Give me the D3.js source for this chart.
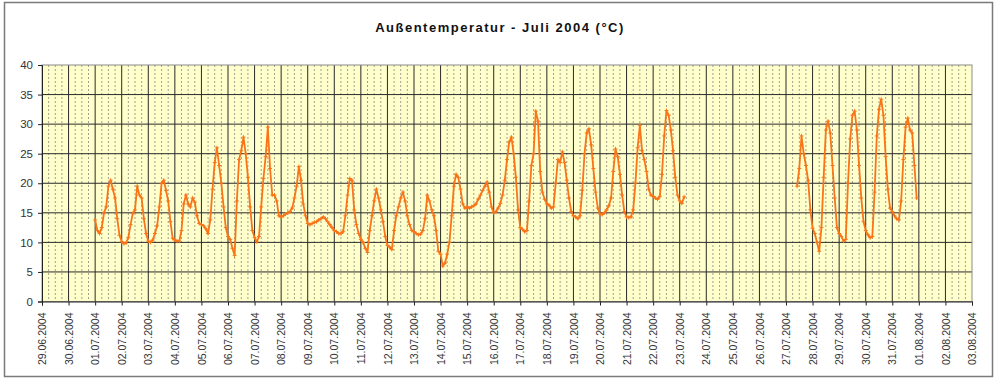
<!DOCTYPE html>
<html>
<head>
<meta charset="utf-8">
<script src="https://cdnjs.cloudflare.com/ajax/libs/d3/7.8.5/d3.min.js"></script>
<style>
  html, body { margin: 0; padding: 0; background: #fff; }
  svg { display: block; }
</style>
</head>
<body>
<svg id="chart" width="1000" height="382"></svg>
<script>
// ---- Data (2-hourly readings, °C) ----
const title = "Außentemperatur - Juli 2004 (°C)";
const tickDates = ["29.06.2004","30.06.2004","01.07.2004","02.07.2004","03.07.2004","04.07.2004","05.07.2004",
  "06.07.2004","07.07.2004","08.07.2004","09.07.2004","10.07.2004","11.07.2004","12.07.2004","13.07.2004",
  "14.07.2004","15.07.2004","16.07.2004","17.07.2004","18.07.2004","19.07.2004","20.07.2004","21.07.2004",
  "22.07.2004","23.07.2004","24.07.2004","25.07.2004","26.07.2004","27.07.2004","28.07.2004","29.07.2004",
  "30.07.2004","31.07.2004","01.08.2004","02.08.2004","03.08.2004"];
const yTicks = [0,5,10,15,20,25,30,35,40];

const jul01 = [13.8,12.0,11.5,12.5,15.0,16.0,19.5,20.5,19.0,17.5,14.0,11.2];
const jul02 = [10.1,9.8,9.9,10.8,13.0,14.9,15.5,19.5,18.0,17.5,14.0,11.5];
const jul03 = [10.2,10.0,10.4,11.5,12.8,16.0,20.0,20.5,18.8,17.0,13.5,10.7];
const jul04 = [10.4,10.2,10.2,12.0,16.5,18.0,16.5,16.0,17.5,16.8,14.5,13.2];
const jul05 = [13.0,12.8,12.3,11.5,13.8,19.0,23.5,26.0,23.0,20.0,16.0,12.5];
const jul06 = [11.0,10.5,9.0,7.8,17.0,24.0,25.5,27.8,25.0,21.0,16.0,12.0];
const jul07 = [10.8,10.1,11.0,16.0,20.8,24.5,29.5,22.5,18.0,18.0,17.0,14.5];
const jul08 = [14.3,14.5,14.8,15.0,15.2,15.8,17.5,19.5,22.8,20.5,16.5,14.5];
const jul09 = [13.2,13.0,13.2,13.4,13.5,13.8,14.0,14.3,14.0,13.5,13.0,12.5];
const jul10 = [12.0,11.8,11.5,11.5,11.8,14.5,18.0,20.8,20.5,15.5,13.0,11.5];
const jul11 = [10.5,10.0,9.0,8.3,12.0,14.5,17.0,19.0,17.5,15.5,13.5,11.0];
const jul12 = [9.5,9.2,8.8,12.0,14.5,16.0,17.5,18.5,17.0,14.5,13.0,12.0];
const jul13 = [11.8,11.5,11.3,11.4,12.0,14.0,18.0,17.0,15.5,14.5,12.0,8.5];
const jul14 = [8.0,6.0,6.5,8.0,10.0,14.5,19.5,21.5,21.0,19.0,16.5,15.8];
const jul15 = [16.0,15.8,16.0,16.2,16.5,17.3,18.0,18.8,19.5,20.2,18.5,16.0];
const jul16 = [15.0,15.2,15.8,16.6,18.0,20.5,24.0,27.0,27.8,25.0,21.0,15.5];
const jul17 = [12.5,12.2,11.8,12.0,17.0,23.0,25.0,32.2,30.5,22.0,18.5,17.3];
const jul18 = [16.5,16.3,15.8,16.0,20.0,24.0,23.5,25.3,23.5,20.5,17.5,15.2];
const jul19 = [14.5,14.3,14.0,14.5,18.8,25.0,28.5,29.2,26.5,22.5,18.5,15.8];
const jul20 = [14.8,14.7,15.0,15.5,16.2,17.5,22.0,25.8,24.5,21.5,18.0,15.2];
const jul21 = [14.3,14.2,14.3,15.5,20.0,26.0,29.8,25.5,24.0,22.0,19.0,18.0];
const jul22 = [17.8,17.5,17.3,17.8,21.5,28.0,32.3,31.5,29.0,25.5,21.0,18.0];
const jul23 = [17.0,16.6,17.7];
const jul27 = [19.5,22.5,28.0,25.0,23.0,20.5,15.5];   // from 10:00
const jul28 = [12.4,11.5,10.0,8.5,12.5,21.0,29.0,30.5,28.5,23.0,17.5,12.5];
const jul29 = [11.5,11.0,10.2,10.5,20.0,27.5,31.5,32.2,29.0,23.0,17.5,13.5];
const jul30 = [12.0,11.3,10.8,11.0,18.5,28.0,32.5,34.2,31.5,24.5,19.0,15.8];
const jul31 = [15.2,14.5,14.0,13.8,17.0,24.0,29.5,31.0,29.0,28.5,23.0,17.5];

// segments: [day-of-July, start hour, values]
const segment1 = [[1,0,jul01],[2,0,jul02],[3,0,jul03],[4,0,jul04],[5,0,jul05],[6,0,jul06],[7,0,jul07],
  [8,0,jul08],[9,0,jul09],[10,0,jul10],[11,0,jul11],[12,0,jul12],[13,0,jul13],[14,0,jul14],[15,0,jul15],
  [16,0,jul16],[17,0,jul17],[18,0,jul18],[19,0,jul19],[20,0,jul20],[21,0,jul21],[22,0,jul22],[23,0,jul23]];
const segment2 = [[27,10,jul27],[28,0,jul28],[29,0,jul29],[30,0,jul30],[31,0,jul31]];

function buildSeries(seg) {
  const out = [];
  seg.forEach(([day, start, vals]) => {
    vals.forEach((v, i) => {
      out.push({ t: new Date(Date.UTC(2004, 6, day, start + 2 * i)), v: v });
    });
  });
  return out;
}
const series = [buildSeries(segment1), buildSeries(segment2)];

// ---- Layout ----
const svg = d3.select("#chart");
const L = 42, R = 972, T = 65, B = 301.5;

const x = d3.scaleUtc()
  .domain([new Date(Date.UTC(2004, 5, 29)), new Date(Date.UTC(2004, 7, 3))])
  .range([L, R]);
const y = d3.scaleLinear().domain([0, 40]).range([B, T]);

// outer frame
svg.append("rect").attr("x", 4.5).attr("y", 2.5).attr("width", 988).attr("height", 374)
  .attr("fill", "#fff").attr("stroke", "#7a7a7a").attr("stroke-width", 1.5);

// title
svg.append("text").attr("x", 500).attr("y", 32).attr("text-anchor", "middle")
  .attr("font-family", "Liberation Sans, Arial, sans-serif").attr("font-weight", "bold")
  .attr("font-size", 13).attr("letter-spacing", "1.5px").attr("fill", "#111").text(title);

// plot background
svg.append("rect").attr("x", L).attr("y", T).attr("width", R - L).attr("height", B - T)
  .attr("fill", "#ffffcc");

// minor vertical dotted gridlines (every 6 h)
const minorTimes = d3.utcHour.every(6).range(x.domain()[0], x.domain()[1])
  .filter(d => d.getUTCHours() !== 0);
svg.append("g").selectAll("line").data(minorTimes).join("line")
  .attr("x1", d => x(d)).attr("x2", d => x(d)).attr("y1", T).attr("y2", B)
  .attr("stroke", "#a0a090").attr("stroke-width", 1).attr("stroke-dasharray", "2,2");

// major vertical gridlines (daily)
const dayTimes = d3.utcDay.range(x.domain()[0], d3.utcDay.offset(x.domain()[1], 1));
svg.append("g").selectAll("line").data(dayTimes.slice(1, -1)).join("line")
  .attr("x1", d => x(d)).attr("x2", d => x(d)).attr("y1", T).attr("y2", B)
  .attr("stroke", "#2a2a2a").attr("stroke-width", 1);

// horizontal gridlines
svg.append("g").selectAll("line").data(yTicks.slice(1, -1)).join("line")
  .attr("x1", L).attr("x2", R).attr("y1", d => y(d)).attr("y2", d => y(d))
  .attr("stroke", "#2a2a2a").attr("stroke-width", 1);

// plot border
svg.append("rect").attr("x", L).attr("y", T).attr("width", R - L).attr("height", B - T)
  .attr("fill", "none").attr("stroke", "#8c8c8c").attr("stroke-width", 1);

// y axis
const yAxis = svg.append("g").attr("transform", `translate(${L},0)`)
  .call(d3.axisLeft(y).tickValues(yTicks).tickSize(4).tickPadding(5));
yAxis.select(".domain").attr("stroke", "#222");
yAxis.selectAll(".tick line").attr("stroke", "#222");
yAxis.selectAll(".tick text").attr("font-family", "Liberation Sans, Arial, sans-serif")
  .attr("font-size", 11.5).attr("fill", "#333");

// x axis
const xAxis = svg.append("g").attr("transform", `translate(0,${B})`)
  .call(d3.axisBottom(x).tickValues(dayTimes.slice(0, tickDates.length))
    .tickFormat((d, i) => tickDates[i]).tickSize(4));
xAxis.select(".domain").attr("stroke", "#222");
xAxis.selectAll(".tick line").attr("stroke", "#222");
xAxis.selectAll(".tick text")
  .attr("font-family", "Liberation Sans, Arial, sans-serif").attr("font-size", 10.5).attr("fill", "#333")
  .attr("text-anchor", "end").attr("transform", "rotate(-90)")
  .attr("x", -11).attr("y", 0).attr("dy", "0.35em");

// data line
const line = d3.line().x(d => x(d.t)).y(d => y(d.v));
const color = "#fa7418";
svg.append("g").selectAll("path").data(series).join("path")
  .attr("d", line).attr("fill", "none").attr("stroke", color).attr("stroke-width", 1.8)
  .attr("stroke-linejoin", "round");

// "+" markers
const all = series.flat();
const cross = all.map(d => {
  const px = x(d.t), py = y(d.v);
  return `M${px - 2},${py}h4M${px},${py - 2}v4`;
}).join("");
svg.append("path").attr("d", cross).attr("stroke", color).attr("stroke-width", 1).attr("fill", "none");
</script>
</body>
</html>
